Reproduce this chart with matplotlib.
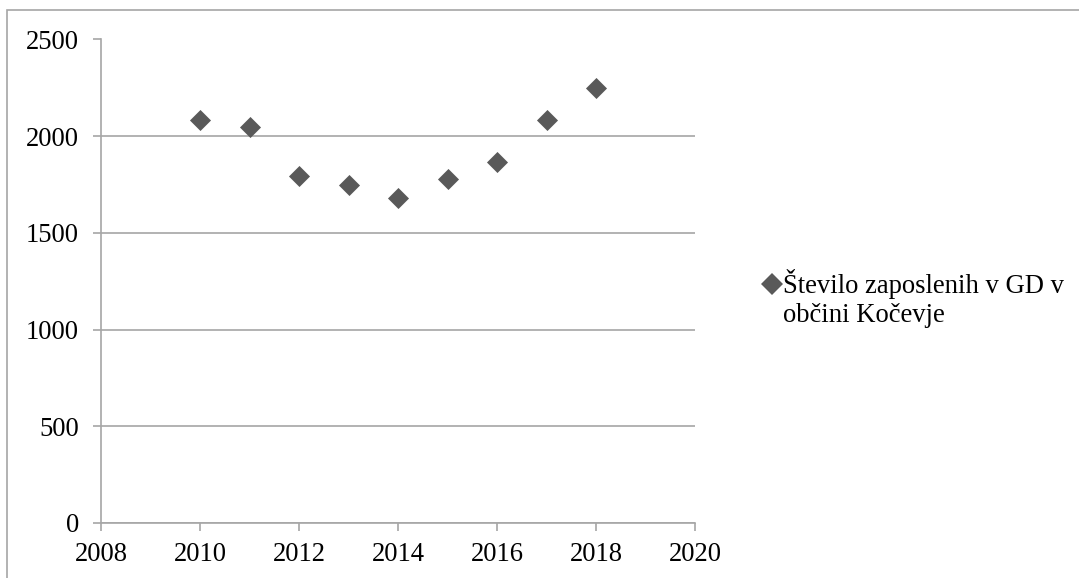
import matplotlib
matplotlib.use("Agg")
import matplotlib.pyplot as plt
from matplotlib.patches import Rectangle
from matplotlib.lines import Line2D

years = [2010, 2011, 2012, 2013, 2014, 2015, 2016, 2017, 2018]
employees = [2086, 2047, 1793, 1747, 1683, 1779, 1866, 2086, 2248]
series_label = "Število zaposlenih v GD v\nobčini Kočevje"
x_ticks = [2008, 2010, 2012, 2014, 2016, 2018, 2020]
y_ticks = [0, 500, 1000, 1500, 2000, 2500]

plt.rcParams["font.family"] = ["Liberation Serif", "DejaVu Serif"]

W, H = 1079, 578
FS = 19.2
MARK_C = "#595959"
MARK_S = 115
grid_c = "#a6a6a6"
fig = plt.figure(figsize=(W / 100, H / 100), dpi=100)

# chart-area frame
fig.add_artist(Rectangle((7 / W, -0.05), 1.1, (H - 10) / H + 0.05,
                         transform=fig.transFigure, fill=False,
                         edgecolor=grid_c, linewidth=1.2))

ax = fig.add_axes([101 / W, (H - 523) / H, (695 - 101) / W, (523 - 39.5) / H])
ax.scatter(years, employees, marker="D", s=MARK_S, color=MARK_C,
           linewidths=0, zorder=3)

ax.set_xlim(2008, 2020)
ax.set_ylim(0, 2500)
ax.set_xticks(x_ticks)
ax.set_yticks(y_ticks)
ax.yaxis.grid(True, color=grid_c, linewidth=1.2)
ax.set_axisbelow(True)
for s in ("top", "right"):
    ax.spines[s].set_visible(False)
for s in ("left", "bottom"):
    ax.spines[s].set_color(grid_c)
    ax.spines[s].set_linewidth(1.2)
ax.tick_params(axis="both", direction="out", length=6, width=1.2,
               color=grid_c, labelsize=FS, labelcolor="black")
ax.tick_params(axis="y", pad=10)
ax.tick_params(axis="x", pad=8)

# legend: marker level with the first line of the two-line label
fig.add_artist(Line2D([772 / W], [1 - 284 / H], transform=fig.transFigure,
                      marker="D", markersize=MARK_S ** 0.5, color=MARK_C,
                      markeredgewidth=0, linestyle="none"))
fig.text(783 / W, 1 - 322 / H, series_label, ha="left", va="baseline",
         fontsize=FS, linespacing=1.2)

fig.savefig("out.png", dpi=100)
